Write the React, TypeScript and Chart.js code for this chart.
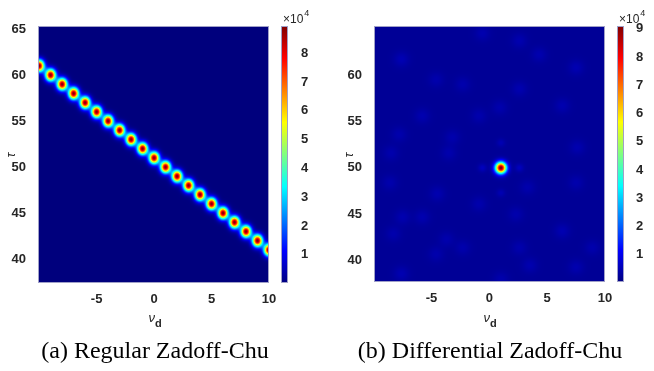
import React, { useEffect, useRef } from "react";
import { Chart, registerables } from "chart.js";
Chart.register(...registerables);

// ---- tick labels ----
const xTicks = [-5, 0, 5, 10];
const yTicksA = [40, 45, 50, 55, 60, 65];
const yTicksB = [40, 45, 50, 55, 60];
const cbTicksA = [1, 2, 3, 4, 5, 6, 7, 8];
const cbTicksB = [1, 2, 3, 4, 5, 6, 7, 8, 9];

// ---- (a) Regular Zadoff-Chu: ridge of peaks ----
const zcNu = [-10, -9, -8, -7, -6, -5, -4, -3, -2, -1, 0, 1, 2, 3, 4, 5, 6, 7, 8, 9, 10];
const zcTau = [61, 60, 59, 58, 57, 56, 55, 54, 53, 52, 51, 50, 49, 48, 47, 46, 45, 44, 43, 42, 41];
const zcPeak = [89000, 89000, 89000, 89000, 89000, 89000, 89000, 89000, 89000, 89000, 89000, 89000, 89000, 89000, 89000, 89000, 89000, 89000, 89000, 89000, 89000];

// ---- (b) Differential Zadoff-Chu: single peak + faint sidelobes ----
const dzcNu = [1];
const dzcTau = [50];
const dzcPeak = [90000];
const lobeNu = [-0.6, 2.6, 1, 1];
const lobeTau = [50, 50, 52.7, 47.3];
const lobeAmp = [3500, 3500, 2500, 2500];
const spotNu = [-7.6, -0.6, 2.6, 4.3, 7.5, -4.6, -2.3, 2.6, -5.8, -0.9, 6.3, -7.8, -3.2, 0.9, -8.5, -3.5, 7.6, -8.6, -4.5, 3.3, 7.5, -7.5, -5.8, -0.9, 2.3, 6.3, -8.3, -3.7, -2.3, 2.6, -7.6, -4.6, 3.5, 7.5, 8.9, 1.0];
const spotTau = [61.7, 64.5, 63.7, 62.2, 60.8, 59.5, 59.0, 58.5, 55.6, 55.6, 56.7, 53.6, 53.3, 56.5, 51.6, 51.6, 52.2, 48.4, 47.2, 47.9, 48.4, 44.7, 44.7, 46.1, 45.0, 43.2, 42.9, 42.3, 41.4, 41.4, 38.6, 40.7, 39.5, 39.3, 41.4, 38.0];
const spotAmp = [2600, 2200, 2200, 2200, 2400, 2000, 2000, 2200, 2200, 2000, 2200, 2000, 2000, 2000, 2000, 2000, 2200, 2000, 2200, 2000, 2000, 2200, 2200, 2000, 2000, 2400, 2000, 2000, 2000, 2000, 2400, 2000, 2200, 2200, 2000, 2000];

type Blob = { nu: number; tau: number; amp: number; sx: number; sy: number };

function jet(v: number): [number, number, number] {
  const c = (t: number) => Math.max(0, Math.min(1, t));
  const r = c(Math.min(4 * v - 1.5, -4 * v + 4.5));
  const g = c(Math.min(4 * v - 0.5, -4 * v + 3.5));
  const b = c(Math.min(4 * v + 0.5, -4 * v + 2.5));
  return [Math.round(r * 255), Math.round(g * 255), Math.round(b * 255)];
}

type Cfg = {
  W: number; H: number;
  area: { left: number; right: number; top: number; bottom: number };
  xmin: number; xmax: number; ymin: number; ymax: number;
  yTicks: number[]; cbTicks: number[];
  cmin: number; cmax: number; base: number;
  blobs: Blob[];
  cbPad: number;
};

const TICK_FONT = { family: "Liberation Sans", size: 13, weight: "bold" as const };
const TICK_COLOR = "#262626";
const FRAME = "rgb(160,160,200)";

function field(cfg: Cfg, nu: number, tau: number) {
  let v = cfg.base;
  for (const b of cfg.blobs) {
    const dx = (nu - b.nu) / b.sx;
    const dy = (tau - b.tau) / b.sy;
    const e = 0.5 * (dx * dx + dy * dy);
    if (e < 30) v += b.amp * Math.exp(-e);
  }
  return v;
}

function zeroPad(s: any) {
  s.paddingTop = 0; s.paddingBottom = 0; s.paddingLeft = 0; s.paddingRight = 0;
}

function makeChart(canvas: HTMLCanvasElement, cfg: Cfg) {
  const heat = {
    id: "heat",
    beforeDatasetsDraw(chart: any) {
      const { ctx, chartArea: a, scales } = chart;
      const xs = scales.x, ys = scales.y;
      const w = Math.round(a.right - a.left), h = Math.round(a.bottom - a.top);
      const off = document.createElement("canvas");
      off.width = w; off.height = h;
      const octx = off.getContext("2d")!;
      const img = octx.createImageData(w, h);
      for (let j = 0; j < h; j++) {
        const tau = ys.getValueForPixel(a.top + j + 0.5);
        for (let i = 0; i < w; i++) {
          const nu = xs.getValueForPixel(a.left + i + 0.5);
          const val = field(cfg, nu, tau);
          const [r, g, b] = jet((val - cfg.cmin) / (cfg.cmax - cfg.cmin));
          const k = (j * w + i) * 4;
          img.data[k] = r; img.data[k + 1] = g; img.data[k + 2] = b; img.data[k + 3] = 255;
        }
      }
      octx.putImageData(img, 0, 0);
      ctx.save();
      ctx.drawImage(off, a.left, a.top);
      ctx.strokeStyle = FRAME;
      ctx.lineWidth = 1;
      ctx.strokeRect(a.left + 0.5, a.top + 0.5, w - 1, h - 1);
      ctx.restore();
    },
    afterDraw(chart: any) {
      const { ctx, chartArea: a, scales } = chart;
      const cb = scales.cb;
      const bl = Math.round(a.right) + 12, bw = 7;
      ctx.save();
      for (let py = Math.round(cb.top); py < Math.round(cb.bottom); py++) {
        const val = cb.getValueForPixel(py + 0.5);
        const [r, g, b] = jet((val - cfg.cmin) / (cfg.cmax - cfg.cmin));
        ctx.fillStyle = `rgb(${r},${g},${b})`;
        ctx.fillRect(bl, py, bw, 1);
      }
      ctx.strokeStyle = FRAME;
      ctx.lineWidth = 1;
      ctx.strokeRect(bl + 0.5, Math.round(cb.top) + 0.5, bw - 1, Math.round(cb.bottom - cb.top) - 1);
      ctx.fillStyle = TICK_COLOR;
      ctx.textBaseline = "middle";
      ctx.textAlign = "left";
      ctx.font = "12px 'Liberation Sans'";
      ctx.fillText("\u00d710", bl + 2, 20);
      const w10 = ctx.measureText("\u00d710").width;
      ctx.font = "9px 'Liberation Sans'";
      ctx.fillText("4", bl + 2 + w10 + 1, 14);
      ctx.restore();
    },
  };

  const a = cfg.area;
  return new Chart(canvas, {
    type: "scatter",
    data: {
      datasets: [
        {
          data: cfg.blobs.map((b) => ({ x: b.nu, y: b.tau })),
          pointRadius: 0,
          pointHoverRadius: 0,
        },
      ],
    },
    options: {
      animation: false,
      responsive: false,
      maintainAspectRatio: false,
      events: [],
      layout: { padding: { top: a.top, left: 0, right: 0, bottom: 0 } },
      plugins: { legend: { display: false }, tooltip: { enabled: false } },
      scales: {
        x: {
          type: "linear",
          position: "bottom",
          min: cfg.xmin,
          max: cfg.xmax,
          grid: { display: false },
          border: { display: false },
          ticks: { font: TICK_FONT, color: TICK_COLOR, padding: 1, maxRotation: 0, autoSkip: false },
          afterBuildTicks: (s: any) => { s.ticks = xTicks.map((v) => ({ value: v })); },
          afterFit: (s: any) => { s.height = cfg.H - a.bottom; zeroPad(s); },
        },
        y: {
          type: "linear",
          position: "left",
          min: cfg.ymin,
          max: cfg.ymax,
          grid: { display: false },
          border: { display: false },
          ticks: { font: TICK_FONT, color: TICK_COLOR, padding: 4, autoSkip: false },
          afterBuildTicks: (s: any) => { s.ticks = cfg.yTicks.map((v) => ({ value: v })); },
          afterFit: (s: any) => { s.width = a.left; zeroPad(s); },
        },
        cb: {
          type: "linear",
          position: "right",
          min: cfg.cmin,
          max: cfg.cmax,
          grid: { display: false },
          border: { display: false },
          ticks: {
            font: TICK_FONT,
            color: TICK_COLOR,
            padding: cfg.cbPad,
            autoSkip: false,
            callback: (v: any) => String(Math.round(Number(v) / 10000)),
          },
          afterBuildTicks: (s: any) => { s.ticks = cfg.cbTicks.map((v) => ({ value: v * 10000 })); },
          afterFit: (s: any) => { s.width = cfg.W - a.right; zeroPad(s); },
        },
      },
    },
    plugins: [heat],
  } as any);
}

const blobsA: Blob[] = zcNu.map((nu, i) => ({ nu, tau: zcTau[i], amp: zcPeak[i], sx: 0.31, sy: 0.45 }));
const blobsB: Blob[] = [
  ...dzcNu.map((nu, i) => ({ nu, tau: dzcTau[i], amp: dzcPeak[i], sx: 0.33, sy: 0.42 })),
  ...lobeNu.map((nu, i) => ({ nu, tau: lobeTau[i], amp: lobeAmp[i], sx: 0.25, sy: 0.3 })),
  ...spotNu.map((nu, i) => ({ nu, tau: spotTau[i], amp: spotAmp[i], sx: 0.45, sy: 0.55 })),
];

const cfgA: Cfg = {
  W: 327, H: 371,
  area: { left: 38, right: 269, top: 26, bottom: 283 },
  xmin: -10.1, xmax: 10, ymin: 37.4, ymax: 65.33,
  yTicks: yTicksA, cbTicks: cbTicksA,
  cmin: 200, cmax: 89500, base: 0,
  blobs: blobsA, cbPad: 24,
};
const cfgB: Cfg = {
  W: 327, H: 371,
  area: { left: 47, right: 278, top: 26, bottom: 282 },
  xmin: -9.97, xmax: 10, ymin: 37.7, ymax: 65.28,
  yTicks: yTicksB, cbTicks: cbTicksB,
  cmin: 400, cmax: 91000, base: 2400,
  blobs: blobsB, cbPad: 23,
};

function Panel({ cfg, left }: { cfg: Cfg; left: number }) {
  const ref = useRef<HTMLCanvasElement>(null);
  useEffect(() => {
    const ch = makeChart(ref.current!, cfg);
    return () => ch.destroy();
  }, [cfg]);
  return (
    <canvas
      ref={ref}
      width={cfg.W}
      height={cfg.H}
      style={{ position: "absolute", left, top: 0, width: cfg.W, height: cfg.H }}
    />
  );
}

const labelStyle: React.CSSProperties = {
  position: "absolute",
  color: "#262626",
  fontFamily: "'Liberation Sans', Arial, sans-serif",
  whiteSpace: "nowrap",
  transform: "translate(-50%,-50%)",
};

function NuD({ x }: { x: number }) {
  return (
    <div style={{ ...labelStyle, left: x, top: 317, fontSize: 13 }}>
      <span style={{ fontStyle: "italic" }}>ν</span>
      <span style={{ fontWeight: "bold", fontSize: 11, position: "relative", top: 5 }}>d</span>
    </div>
  );
}

function Tau({ x }: { x: number }) {
  return (
    <div style={{ ...labelStyle, left: x, top: 155, fontSize: 13, fontStyle: "italic", transform: "translate(-50%,-50%) rotate(-90deg)" }}>
      τ
    </div>
  );
}

const captionStyle: React.CSSProperties = {
  position: "absolute",
  top: 336,
  lineHeight: "28px",
  fontSize: 24,
  fontFamily: "'Liberation Serif', 'Times New Roman', serif",
  color: "#000",
  whiteSpace: "nowrap",
  transform: "translateX(-50%)",
};

export default function App() {
  return (
    <div style={{ position: "absolute", left: 0, top: 0, width: 654, height: 371, background: "#fff", overflow: "hidden" }}>
      <Panel cfg={cfgA} left={0} />
      <Panel cfg={cfgB} left={327} />
      <Tau x={10} />
      <Tau x={348} />
      <NuD x={155} />
      <NuD x={490} />
      <div style={{ ...captionStyle, left: 155 }}>(a) Regular Zadoff-Chu</div>
      <div style={{ ...captionStyle, left: 490 }}>(b) Differential Zadoff-Chu</div>
    </div>
  );
}
